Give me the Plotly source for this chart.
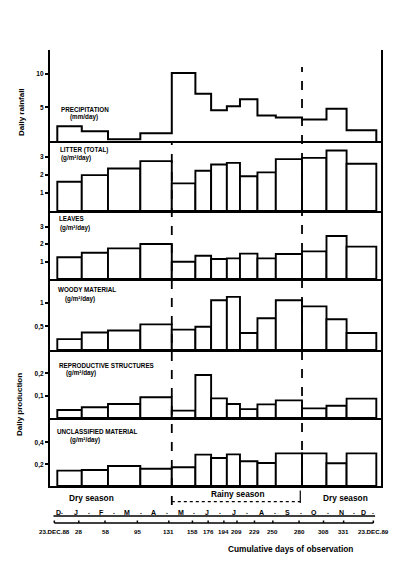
import plotly.graph_objects as go

# page body keeps an 8px margin, so the figure is drawn 8px smaller and
# every reference pixel is shifted by that offset
OFFSET = 8
W, H = 408 - OFFSET, 572 - OFFSET

# Cumulative days of observation (bar edges) and the labels printed under them
edges = [0, 28, 58, 95, 131, 158, 176, 194, 209, 229, 250, 280, 308, 331, 365]
tick_labels = ["23.DEC.88", "28", "58", "95", "131", "158", "176", "194", "209",
               "229", "250", "280", "308", "331", "23.DEC.89"]

# Values per observation interval
precipitation = [2.2, 1.45, 0.25, 1.15, 10.1, 7.0, 4.55, 5.15, 6.2, 3.8, 3.5, 3.2, 4.8, 1.6]
litter_total = [1.63, 2.0, 2.37, 2.78, 1.54, 2.24, 2.59, 2.68, 1.94, 2.15, 2.89, 2.96, 3.37, 2.63]
leaves = [1.24, 1.5, 1.75, 2.0, 0.99, 1.33, 1.14, 1.18, 1.45, 1.18, 1.43, 1.58, 2.46, 1.85]
woody = [0.23, 0.37, 0.41, 0.54, 0.43, 0.49, 1.05, 1.12, 0.36, 0.67, 1.05, 0.92, 0.65, 0.36]
reproductive = [0.036, 0.048, 0.063, 0.093, 0.033, 0.193, 0.088, 0.063, 0.04, 0.061,
                0.079, 0.043, 0.055, 0.087]
unclassified = [0.141, 0.147, 0.184, 0.159, 0.172, 0.288, 0.257, 0.291, 0.227, 0.211,
                0.30, 0.30, 0.209, 0.30]

# Calendar: month letters and first day of each month (days since 23 Dec 1988)
months = ["D", "J", "F", "M", "A", "M", "J", "J", "A", "S", "O", "N", "D"]
month_starts = [0, 9, 40, 68, 99, 129, 160, 190, 221, 252, 282, 313, 343, 365]
rainy_start, rainy_end = 131, 280

FONT = "Liberation Sans"


def py(px):
    return 1 - (px - OFFSET) / H


def px_x(px):
    return (px - OFFSET) / W


# panel x mapping: pixel = 57.3 + 0.874 * day
X_RANGE = [(50 - 57.3) / 0.874, (381 - 57.3) / 0.874]
X_DOMAIN = [px_x(50), px_x(381)]
BOTTOM_SHIFT = -3.4  # bottom scale of the scan sits slightly left

panels = [
    dict(vals=precipitation, top=50, bot=141, ymax=13.5, tv=[5, 10], tt=["5", "10"],
         label=[("PRECIPITATION", 59, 109), ("(mm/day)", 68, 117)]),
    dict(vals=litter_total, top=141, bot=211, ymax=3.9, tv=[1, 2, 3], tt=["1", "2", "3"],
         label=[("LITTER (TOTAL)", 58, 150), ("(g/m²/day)", 59, 157.5)]),
    dict(vals=leaves, top=211, bot=279, ymax=3.886, tv=[1, 2, 3], tt=["1", "2", "3"],
         label=[("LEAVES", 57, 218.5), ("(g/m²/day)", 58, 228)]),
    dict(vals=woody, top=279, bot=350, ymax=1.498, tv=[0.5, 1], tt=["0,5", "1"],
         label=[("WOODY MATERIAL", 56, 289), ("(g/m²/day)", 63, 298.5)]),
    dict(vals=reproductive, top=350, bot=418, ymax=0.305, tv=[0.1, 0.2], tt=["0,1", "0,2"],
         label=[("REPRODUCTIVE STRUCTURES", 57, 365), ("(g/m²/day)", 64, 373)]),
    dict(vals=unclassified, top=418, bot=486, ymax=0.625, tv=[0.2, 0.4], tt=["0,2", "0,4"],
         label=[("UNCLASSIFIED MATERIAL", 55, 431.5), ("(g/m²/day)", 68, 439.5)]),
]

mids = [(a + b) / 2 for a, b in zip(edges[:-1], edges[1:])]
widths = [b - a for a, b in zip(edges[:-1], edges[1:])]

fig = go.Figure()
annotations = []
shapes = []


def note(text, x, y, size=6.5, xanchor="left", xref="paper", angle=0):
    annotations.append(dict(
        text=text, x=x if xref != "paper" else px_x(x), y=py(y), xref=xref, yref="paper",
        xanchor=xanchor, yanchor="middle", showarrow=False, textangle=angle,
        font=dict(family=FONT, size=size, color="black", weight="bold")))


for i, p in enumerate(panels):
    s = "" if i == 0 else str(i + 1)
    if i == 0:
        # precipitation drawn as a step outline
        xs = [edges[0]] + edges[:-1] + [edges[-1], edges[-1]]
        ys = [0] + p["vals"] + [p["vals"][-1], 0]
        fig.add_trace(go.Scatter(x=xs, y=ys, mode="lines", line_shape="hv",
                                 line=dict(color="black", width=2),
                                 xaxis="x" + s, yaxis="y" + s, showlegend=False,
                                 hoverinfo="skip"))
    else:
        fig.add_trace(go.Bar(x=mids, y=p["vals"], width=widths,
                             marker=dict(color="white", line=dict(color="black", width=1.9)),
                             xaxis="x" + s, yaxis="y" + s, showlegend=False))
    fig.layout["xaxis" + s] = dict(
        domain=X_DOMAIN, range=X_RANGE, anchor="y" + s, showline=True,
        linecolor="black", linewidth=2.2, showticklabels=False, ticks="",
        showgrid=False, zeroline=False)
    fig.layout["yaxis" + s] = dict(
        domain=[py(p["bot"]), py(p["top"])], range=[0, p["ymax"]], anchor="x" + s,
        showline=True, mirror=True, linecolor="black", linewidth=2.2,
        ticks="outside", ticklen=3, tickwidth=1.6, tickcolor="black",
        tickvals=p["tv"], ticktext=p["tt"], showgrid=False, zeroline=False,
        tickfont=dict(family=FONT, size=6.5, color="black", weight="bold"))
    for text, x, y in p["label"]:
        note(text, x, y, size=6.3)

# Axis titles
note("Daily rainfall", 21, 112, size=8, xanchor="center", angle=-90)
note("Daily production", 19, 405, size=8, xanchor="center", angle=-90)

# Season boundaries
shapes.append(dict(type="line", xref="x", yref="paper", x0=rainy_start, x1=rainy_start,
                   y0=py(505), y1=py(141), line=dict(color="black", width=1.8, dash="dash")))
shapes.append(dict(type="line", xref="x", yref="paper", x0=rainy_end, x1=rainy_end,
                   y0=py(486), y1=py(67), line=dict(color="black", width=1.8, dash="dash")))
# Rainy season bracket
shapes.append(dict(type="line", xref="x", yref="paper", x0=rainy_start, x1=rainy_end - 2,
                   y0=py(501.7), y1=py(501.7), line=dict(color="black", width=1.2, dash="dot")))
shapes.append(dict(type="line", xref="x", yref="paper", x0=rainy_end - 2, x1=rainy_end - 2,
                   y0=py(503), y1=py(490.5), line=dict(color="black", width=1.2)))
note("Rainy season", 238, 494, size=8.3, xanchor="center")
note("Dry season", 91.5, 497.5, size=8.3, xanchor="center")
note("Dry season", 345, 497.5, size=8.3, xanchor="center")

# Month row
for k, m in enumerate(months):
    mid = (month_starts[k] + month_starts[k + 1]) / 2
    note(m, mid + BOTTOM_SHIFT, 512, size=7, xanchor="center", xref="x")
    note(".", month_starts[k + 1] + BOTTOM_SHIFT, 511, size=7, xanchor="center", xref="x")
shapes.append(dict(type="line", xref="x", yref="paper",
                   x0=edges[0] - 1 + BOTTOM_SHIFT, x1=edges[-1] + 2 + BOTTOM_SHIFT,
                   y0=py(516), y1=py(516), line=dict(color="black", width=1.7)))

# Cumulative day scale
shapes.append(dict(type="line", xref="x", yref="paper",
                   x0=edges[0] + BOTTOM_SHIFT, x1=edges[-1] + BOTTOM_SHIFT,
                   y0=py(523), y1=py(523), line=dict(color="black", width=1.5)))
for d, lab in zip(edges, tick_labels):
    shapes.append(dict(type="line", xref="x", yref="paper",
                       x0=d + BOTTOM_SHIFT, x1=d + BOTTOM_SHIFT,
                       y0=py(523), y1=py(520.5), line=dict(color="black", width=1.5)))
    note(lab, d + BOTTOM_SHIFT, 531.5, size=6.2, xanchor="center", xref="x")

note("Cumulative days of observation", 290, 549, size=8.3, xanchor="center")

fig.update_layout(
    width=W, height=H, autosize=False,
    margin=dict(l=0, r=0, t=0, b=0),
    plot_bgcolor="white", paper_bgcolor="white",
    annotations=annotations, shapes=shapes,
    showlegend=False,
)

fig.write_html("out.html")
